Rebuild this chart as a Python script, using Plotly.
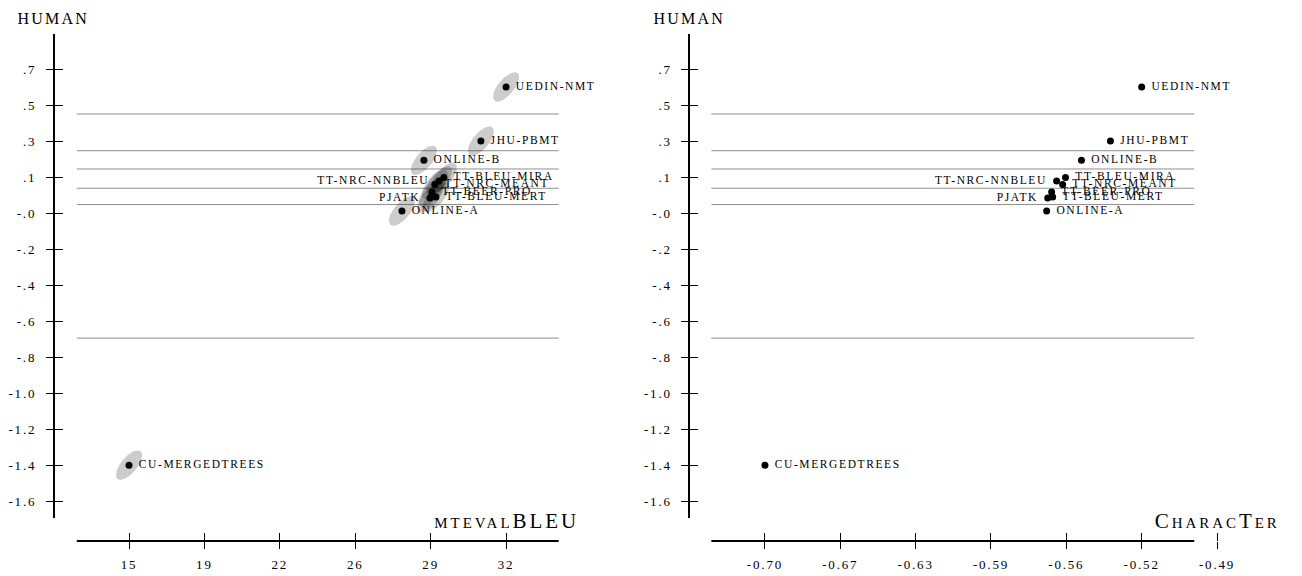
import numpy as np
import plotly.graph_objects as go

# ---- system-level scores -------------------------------------------------
systems = ["UEDIN-NMT", "JHU-PBMT", "ONLINE-B", "TT-BLEU-MIRA", "TT-NRC-NNBLEU",
           "TT-NRC-MEANT", "TT-BEER-PRO", "TT-BLEU-MERT", "PJATK", "ONLINE-A",
           "CU-MERGEDTREES"]
human = [0.620, 0.334, 0.232, 0.141, 0.123, 0.104, 0.065, 0.038, 0.033, -0.036, -1.379]
bleu = [32.40, 31.25, 28.65, 29.56, 29.34, 29.15, 29.02, 29.20, 28.93, 27.65, 15.20]
character = [-0.5220, -0.5371, -0.5511, -0.5588, -0.5631, -0.5602, -0.5655, -0.5650,
             -0.5674, -0.5679, -0.7040]
# significance clusters of the human ranking (1 = best)
cluster = [1, 2, 3, 4, 4, 4, 5, 5, 5, 6, 7]
label_side = ["right", "right", "right", "right", "left", "right", "right", "right",
              "left", "right", "right"]

# ---- tick labels -----------------------------------------------------------
human_ticks = [".7", ".5", ".3", ".1", "-.0", "-.2", "-.4", "-.6", "-.8", "-1.0",
               "-1.2", "-1.4", "-1.6"]
bleu_ticks = ["15", "19", "22", "26", "29", "32"]
character_ticks = ["-0.70", "-0.67", "-0.63", "-0.59", "-0.56", "-0.52", "-0.49"]

# ---- page geometry (pixels) ----------------------------------------------
W, H = 1302, 576
FONT = "Liberation Serif"


def fx(px):
    return px / W


def fy(py):
    return 1 - py / H


y_dom = [fy(518), fy(34)]
x_pos = fy(541)
panels = [
    dict(x="x", y="y", xo="x3", yo="y3", yaxis_x=54, line=(77, 560), dom=(77, 560),
         rng=[12.82, 34.80], vals=bleu, ticks=bleu_ticks, title="mtevalBLEU",
         ellipses=True),
    dict(x="x2", y="y2", xo="x4", yo="y4", yaxis_x=691, line=(713, 1197), dom=(713, 1230),
         rng=[-0.7299, -0.4807], vals=character, ticks=character_ticks, title="CharacTer",
         ellipses=False),
]
y_range = [-1.6585, 0.900]

# y ticks: one step below the lowest system, 0.19 apart
y_step = 0.19
y_tickvals = [min(human) + y_step * (11 - k) for k in range(len(human_ticks))]

# cluster boundaries: midway between neighbouring clusters
boundaries = []
for c in sorted(set(cluster))[:-1]:
    lo = min(h for h, k in zip(human, cluster) if k == c)
    hi = max(h for h, k in zip(human, cluster) if k == c + 1)
    boundaries.append((lo + hi) / 2)

fig = go.Figure()
shapes = []
annotations = []
layout_axes = {}

for i, p in enumerate(panels):
    vals = p["vals"]
    vmin, vmax = min(vals), max(vals)
    step = (vmax - vmin) / 5
    x_tickvals = [vmin + step * k for k in range(len(p["ticks"]))]

    # confidence ellipses (fixed pixel size, tilted along the diagonal)
    if p["ellipses"]:
        ppx = (p["dom"][1] - p["dom"][0]) / (p["rng"][1] - p["rng"][0])
        ppy = (518 - 34) / (y_range[1] - y_range[0])
        a, b, th = 18.0, 8.0, np.deg2rad(50)
        t = np.linspace(0, 2 * np.pi, 72)
        ex = (a * np.cos(t) * np.cos(th) - b * np.sin(t) * np.sin(th)) / ppx
        ey = (a * np.cos(t) * np.sin(th) + b * np.sin(t) * np.cos(th)) / ppy
        for xv, hv in zip(vals, human):
            fig.add_trace(go.Scatter(
                x=xv + ex, y=hv + ey, xaxis=p["x"], yaxis=p["y"], mode="lines",
                fill="toself", fillcolor="rgba(0,0,0,0.2)", line=dict(width=0),
                hoverinfo="skip", showlegend=False))

    # system points
    fig.add_trace(go.Scatter(
        x=vals, y=human, xaxis=p["x"], yaxis=p["y"], mode="markers",
        marker=dict(size=7, color="black", line=dict(width=0)),
        showlegend=False, cliponaxis=False, hoverinfo="skip"))
    # system names, offset by an invisible wider marker
    fig.add_trace(go.Scatter(
        x=vals, y=human, xaxis=p["x"], yaxis=p["y"], mode="markers+text",
        text=systems,
        textposition=["middle " + s for s in label_side],
        textfont=dict(family=FONT, size=11.5, color="black"),
        marker=dict(size=14, color="rgba(0,0,0,0)", line=dict(width=0)),
        showlegend=False, cliponaxis=False, hoverinfo="skip"))

    # empty trace so the tick-only overlay axes get drawn
    fig.add_trace(go.Scatter(x=[None], y=[None], xaxis=p["xo"], yaxis=p["yo"],
                             mode="markers", showlegend=False, hoverinfo="skip"))

    # horizontal cluster separators
    for bnd in boundaries:
        shapes.append(dict(type="line", xref="paper", yref=p["y"],
                           x0=fx(p["line"][0]), x1=fx(p["line"][1]), y0=bnd, y1=bnd,
                           line=dict(color="#8f8f8f", width=1), layer="below"))
    # x axis line
    shapes.append(dict(type="line", xref="paper", yref="paper",
                       x0=fx(p["line"][0]), x1=fx(p["line"][1]), y0=x_pos, y1=x_pos,
                       line=dict(color="black", width=2)))

    tickfont = dict(family=FONT, size=13, color="black")
    xa = dict(domain=[fx(p["dom"][0]), fx(p["dom"][1])], range=p["rng"], anchor="free",
              position=x_pos, tickvals=x_tickvals, ticktext=p["ticks"], ticks="outside",
              ticklen=7, tickwidth=1, tickcolor="black", showline=False, showgrid=False,
              zeroline=False, tickfont=tickfont, ticklabelstandoff=4, fixedrange=True)
    xo = dict(overlaying=p["x"], range=p["rng"], anchor="free", position=x_pos,
              tickvals=x_tickvals, ticks="inside", ticklen=8, tickwidth=1,
              tickcolor="black", showticklabels=False, showline=False, showgrid=False,
              zeroline=False, fixedrange=True)
    ya = dict(domain=y_dom, range=y_range, anchor="free", position=fx(p["yaxis_x"]),
              tickvals=y_tickvals, ticktext=human_ticks, ticks="outside", ticklen=7,
              tickwidth=1, tickcolor="black", showline=True, linewidth=2,
              linecolor="black", showgrid=False, zeroline=False, tickfont=tickfont,
              ticklabelstandoff=7, fixedrange=True)
    yo = dict(overlaying=p["y"], range=y_range, anchor="free", position=fx(p["yaxis_x"]),
              tickvals=y_tickvals, ticks="inside", ticklen=8, tickwidth=1,
              tickcolor="black", showticklabels=False, showline=False, showgrid=False,
              zeroline=False, fixedrange=True)
    n = i + 1
    layout_axes["xaxis" if n == 1 else "xaxis2"] = xa
    layout_axes["yaxis" if n == 1 else "yaxis2"] = ya
    layout_axes["xaxis%d" % (n + 2)] = xo
    layout_axes["yaxis%d" % (n + 2)] = yo

    annotations.append(dict(text="HUMAN", xref="paper", yref="paper",
                            x=fx(p["yaxis_x"]), y=fy(18), xanchor="center",
                            yanchor="middle", showarrow=False,
                            font=dict(family=FONT, size=16, color="black")))
    annotations.append(dict(text=p["title"], xref=p["x"], yref="paper",
                            x=x_tickvals[-1], y=fy(521), xanchor="center",
                            yanchor="middle", showarrow=False,
                            font=dict(family=FONT, size=21, color="black",
                                      variant="small-caps")))

fig.update_layout(
    width=W, height=H, margin=dict(l=0, r=0, t=0, b=0),
    paper_bgcolor="white", plot_bgcolor="white",
    font=dict(family=FONT, color="black"),
    shapes=shapes, annotations=annotations, showlegend=False,
    **layout_axes,
)

tracking = """
document.querySelectorAll('.main-svg text').forEach(function (t) {
  t.style.letterSpacing = '0.14em';
});
"""
fig.write_html("out.html", post_script=tracking, config={"displayModeBar": False})
